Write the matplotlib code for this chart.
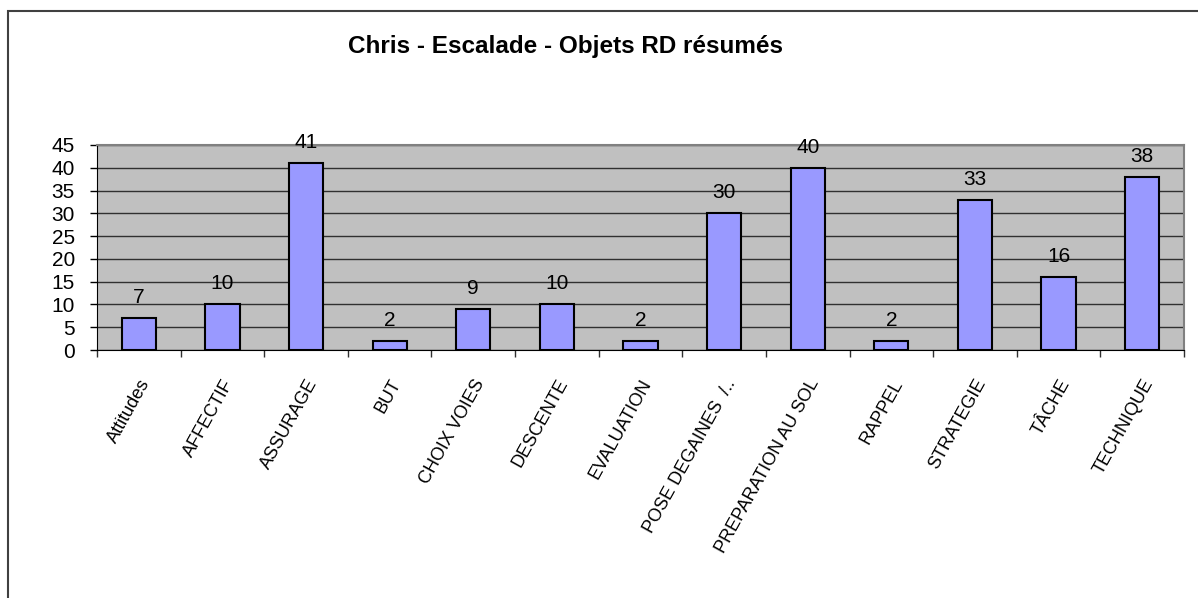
import matplotlib.pyplot as plt
import numpy as np
from matplotlib.patches import Rectangle

plt.rcParams['font.family'] = ['Liberation Sans', 'DejaVu Sans']

categories = ['Attitudes', 'AFFECTIF', 'ASSURAGE', 'BUT', 'CHOIX VOIES', 'DESCENTE',
              'EVALUATION', 'POSE DEGAINES  /..', 'PREPARATION AU SOL', 'RAPPEL',
              'STRATEGIE', 'TÂCHE', 'TECHNIQUE']
values = [7, 10, 41, 2, 9, 10, 2, 30, 40, 2, 33, 16, 38]
y_ticks = [0, 5, 10, 15, 20, 25, 30, 35, 40, 45]

fig = plt.figure(figsize=(11.98, 5.98), dpi=100)
# cadre extérieur (sort de l'image à droite et en bas)
fig.patches.append(Rectangle((8 / 1198, -0.2), 1.2, 1 - 11 / 598 + 0.2,
                             transform=fig.transFigure, fill=False,
                             edgecolor='#404040', linewidth=1.5))

ax = fig.add_axes([97 / 1198, 1 - 350 / 598, (1184 - 97) / 1198, (350 - 145) / 598])
ax.set_facecolor('#C0C0C0')

x = np.arange(len(categories))
ax.bar(x, values, width=0.41, color='#9999FF', edgecolor='black', linewidth=1.5, zorder=3)

for xi, v in zip(x, values):
    ax.annotate(str(v), (xi, v), xytext=(0, 8), textcoords='offset points',
                ha='center', va='bottom', fontsize=15, zorder=4)

ax.set_xlim(-0.5, len(categories) - 0.5)
ax.set_ylim(0, 45)
ax.set_yticks(y_ticks)
ax.tick_params(axis='y', labelsize=15, direction='out', length=5, width=1, pad=11)
ax.yaxis.grid(True, color='#303030', linewidth=1, zorder=1)
ax.set_axisbelow(True)

# ticks x entre catégories, labels au centre
ax.set_xticks(np.arange(len(categories) + 1) - 0.5)
ax.set_xticklabels([])
ax.tick_params(axis='x', direction='out', length=5, width=1, color='#303030')
ax.set_xticks(x, minor=True)
ax.set_xticklabels(categories, minor=True, rotation=61, ha='right',
                   rotation_mode='anchor', fontsize=13)
ax.tick_params(axis='x', which='minor', length=0, pad=19)

for side in ['top', 'right']:
    ax.spines[side].set_color('#808080')
    ax.spines[side].set_linewidth(1.5)
ax.spines['left'].set_color('black')
ax.spines['bottom'].set_color('black')

fig.text(565 / 1198, 1 - 47 / 598, 'Chris - Escalade - Objets RD résumés',
         ha='center', va='center', fontsize=17.5, fontweight='bold')

plt.savefig('out.png', dpi=100)
